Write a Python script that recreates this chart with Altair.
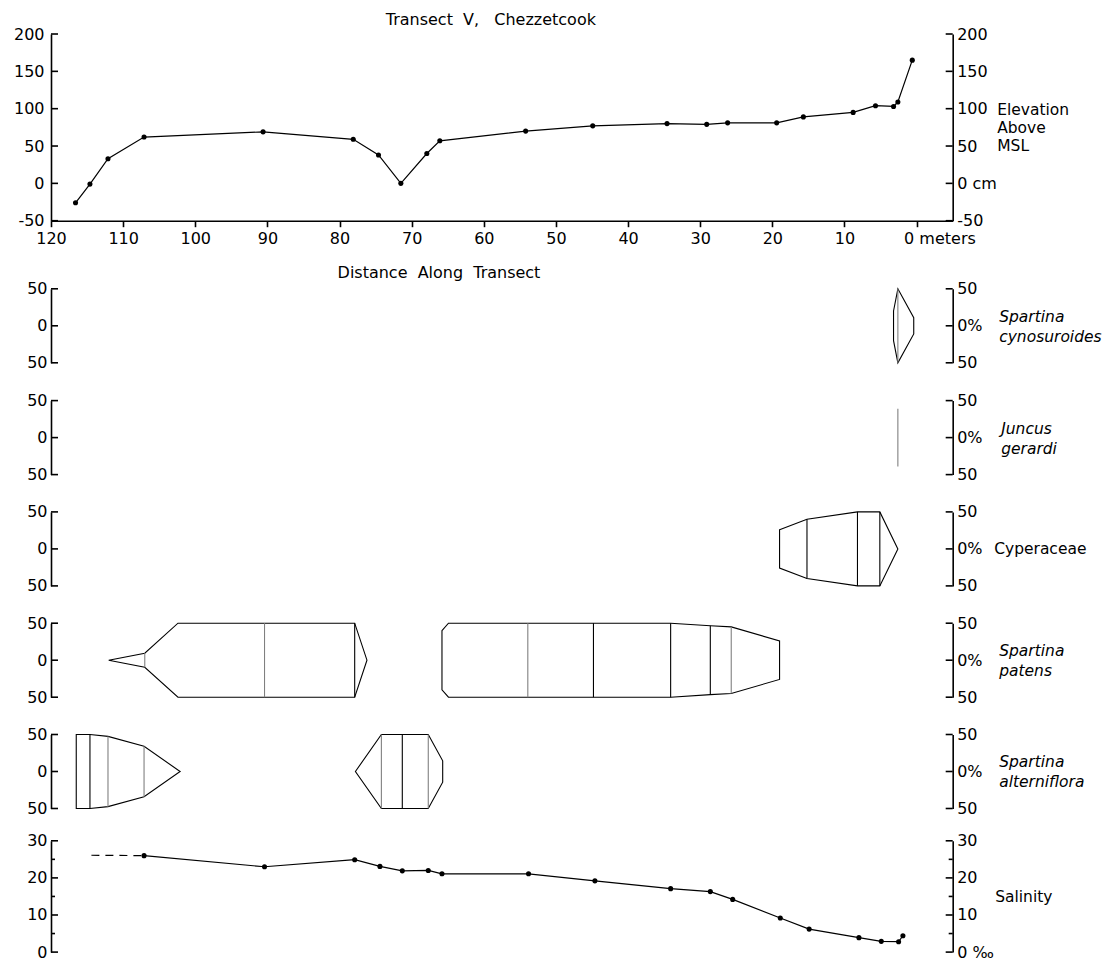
import altair as alt
import pandas as pd

FONT = "DejaVu Sans"
W = 901.7          # plot width shared by every panel (px)
SPACING = 32.3     # vertical gap between panels (px)
NB = "\u00a0"      # non-breaking space keeps the wide word gaps

# ---------------- data ----------------
# elevation profile: distance along transect (m) and elevation above MSL (cm)
elev_dist = [116.6, 114.6, 112.1, 107.1, 90.6, 78.1, 74.6, 71.5, 67.9, 66.1, 54.2,
             44.9, 34.6, 29.1, 26.2, 19.4, 15.7, 8.8, 5.7, 3.2, 2.6, 0.6]
elev_cm = [-26, -1, 33, 62, 69, 59, 38, 0, 40, 57, 70,
           77, 80, 79, 81, 81, 89, 95, 104, 103, 109, 165]

# salinity (per mil)
sal_dist = [107.1, 90.4, 77.9, 74.4, 71.3, 67.7, 65.8, 53.8, 44.6, 34.1, 28.6,
            25.5, 18.9, 14.9, 8.0, 4.9, 2.5, 1.9]
sal_ppt = [26.0, 23.0, 24.9, 23.1, 21.9, 22.0, 21.1, 21.1, 19.2, 17.1, 16.3,
           14.2, 9.2, 6.2, 3.9, 2.9, 2.8, 4.4]
# extrapolated salinity at the seaward end (dashed)
sal_ext_dist = [114.4, 107.1]
sal_ext_ppt = [26.1, 26.0]

# percent cover per species: kite outlines (one list per patch) and sample stations
cyn_patch_dist = [[3.2, 2.6, 0.4]]
cyn_patch_cover = [[40, 100, 22]]
cyn_stn_dist = [2.6]
cyn_stn_cover = [100]
cyn_stn_style = ["light"]

jun_patch_dist = []
jun_patch_cover = []
jun_stn_dist = [2.6]
jun_stn_cover = [78]
jun_stn_style = ["light"]

cyp_patch_dist = [[19.0, 15.2, 8.2, 5.1, 2.6]]
cyp_patch_cover = [[52, 80, 100, 100, 0]]
cyp_stn_dist = [15.2, 8.2, 5.1]
cyp_stn_cover = [80, 100, 100]
cyp_stn_style = ["solid", "solid", "solid"]

pat_patch_dist = [[112.0, 107.0, 102.4, 90.4, 77.9, 76.2],
                  [65.8, 64.9, 53.9, 44.8, 34.1, 28.6, 25.7, 19.0]]
pat_patch_cover = [[0, 19, 100, 100, 100, 0],
                   [80, 100, 100, 100, 100, 93, 90, 52]]
pat_stn_dist = [107.0, 90.4, 77.9, 53.9, 44.8, 34.1, 28.6, 25.7]
pat_stn_cover = [19, 100, 100, 100, 100, 100, 93, 90]
pat_stn_style = ["light", "light", "solid", "light", "solid", "solid", "solid", "light"]

salt_patch_dist = [[116.5, 114.6, 112.1, 107.1, 102.1],
                   [77.8, 74.2, 71.3, 67.7, 65.7]]
salt_patch_cover = [[100, 100, 95, 68, 0],
                    [0, 100, 100, 100, 29]]
salt_stn_dist = [114.6, 112.1, 107.1, 74.2, 71.3, 67.7]
salt_stn_cover = [100, 95, 68, 100, 100, 100]
salt_stn_style = ["solid", "light", "light", "light", "solid", "light"]

x_ticks = [120, 110, 100, 90, 80, 70, 60, 50, 40, 30, 20, 10, 0]
elev_ticks = [-50, 0, 50, 100, 150, 200]
kite_ticks = [-50, 0, 50]
sal_ticks = [0, 10, 20, 30]
sal_minor = [5, 15, 25]

# ---------------- helpers ----------------
xscale = alt.Scale(domain=[120, -5], nice=False, zero=False)
NEG = "datum.value < 0 ? '-' + abs(datum.value) : datum.label"


def axis_left(values, expr, pad):
    return alt.Axis(orient="left", values=values, labelExpr=expr, ticks=False, tickSize=0,
                    domain=True, domainColor="black", domainWidth=1.6, grid=False,
                    labelPadding=pad, labelFlush=False, labelFontSize=16,
                    labelColor="black", labelFont=FONT, title=None)


def axis_right(values, expr, title, italic, tx, ty, lh=20):
    return alt.Axis(orient="right", values=values, labelExpr=expr, ticks=False, tickSize=0,
                    domain=True, domainColor="black", domainWidth=1.6, grid=False,
                    labelPadding=4, labelFlush=False, labelFontSize=16,
                    labelColor="black", labelFont=FONT,
                    title=title, titleFont=FONT, titleFontSize=15.5,
                    titleFontWeight="normal", titleColor="black", titleAngle=0,
                    titleAlign="left", titleBaseline="middle", titleX=tx, titleY=ty,
                    titleLineHeight=lh, titleFontStyle="italic" if italic else "normal")


def inward_ticks(vals, side, length, yscale, axis):
    df = pd.DataFrame({"v": vals})
    if side == "left":
        xs = dict(x=alt.value(0), x2=alt.value(length))
    else:
        xs = dict(x=alt.value(W - length), x2=alt.value(W))
    return alt.Chart(df).mark_rule(color="black", strokeWidth=1.6).encode(
        y=alt.Y("v:Q", scale=yscale, axis=axis), **xs)


# ---------------- elevation panel ----------------
eyscale = alt.Scale(domain=[-50, 200], nice=False, zero=False)
edf = pd.DataFrame({"dist": elev_dist, "elev": elev_cm})

xaxis = alt.Axis(
    orient="bottom", values=x_ticks, grid=False,
    domainColor="black", domainWidth=1.6, ticks=True, tickSize=6, tickWidth=1.6,
    tickColor="black", labelPadding=4, labelFlush=False, labelFontSize=16,
    labelColor="black", labelFont=FONT,
    labelExpr="datum.value === 0 ? '0 meters' : datum.label",
    labelAlign={"condition": {"test": "datum.value === 0", "value": "left"}, "value": "center"},
    labelOffset={"condition": {"test": "datum.value === 0", "value": -13}, "value": 0},
    title=f"Distance{NB}{NB}Along{NB}{NB}Transect", titleFont=FONT, titleFontSize=16,
    titleFontWeight="normal", titleColor="black", titleX=387.5, titleY=52,
    titleAlign="center", titleBaseline="middle")

elev_line = alt.Chart(edf).mark_line(color="black", strokeWidth=1.2).encode(
    x=alt.X("dist:Q", scale=xscale, axis=xaxis),
    y=alt.Y("elev:Q", scale=eyscale, axis=None))
elev_pts = alt.Chart(edf).mark_circle(size=26, color="black", opacity=1).encode(
    x=alt.X("dist:Q", scale=xscale, axis=xaxis),
    y=alt.Y("elev:Q", scale=eyscale, axis=None))

elev_panel = alt.layer(
    elev_line, elev_pts,
    inward_ticks(elev_ticks, "left", 7, eyscale, axis_left(elev_ticks, NEG, 7)),
    inward_ticks(elev_ticks, "right", 7, eyscale,
                 axis_right(elev_ticks,
                            "datum.value === 0 ? '0 cm' : (" + NEG + ")",
                            ["Elevation", "Above", "MSL"], False, 44, 75, 18.5)),
).resolve_axis(y="independent").properties(
    width=W, height=186.7,
    title=alt.TitleParams(f"Transect{NB}{NB}V,{NB}{NB}{NB}Chezzetcook", font=FONT,
                          fontSize=16, fontWeight="normal", color="black",
                          anchor="middle", frame="group", dx=-11, offset=-2))


# ---------------- kite panels ----------------
def kite_panel(patch_dist, patch_cover, stn_dist, stn_cover, stn_style,
               name, italic, tx, height, top_pad):
    yscale = alt.Scale(domain=[-50, 50], range=[height, top_pad], nice=False, zero=False)
    mid = (height + top_pad) / 2
    title_y = mid - 9.5 if isinstance(name, list) else mid
    layers = []
    if patch_dist:
        rows = []
        for k, (ds, cs) in enumerate(zip(patch_dist, patch_cover)):
            for d, c in zip(ds, cs):
                rows.append({"patch": k, "dist": d, "hi": c / 2, "lo": -c / 2})
        layers.append(
            alt.Chart(pd.DataFrame(rows)).mark_area(
                fill="white", fillOpacity=0, stroke="black", strokeWidth=1.1
            ).encode(
                x=alt.X("dist:Q", scale=xscale, axis=None),
                y=alt.Y("hi:Q", scale=yscale, axis=None),
                y2="lo:Q",
                detail="patch:N"))
    sdf = pd.DataFrame({"dist": stn_dist,
                        "hi": [c / 2 for c in stn_cover],
                        "lo": [-c / 2 for c in stn_cover],
                        "style": stn_style})
    layers.append(
        alt.Chart(sdf).mark_rule(strokeWidth=1.1).encode(
            x=alt.X("dist:Q", scale=xscale, axis=None),
            y=alt.Y("hi:Q", scale=yscale, axis=None),
            y2="lo:Q",
            color=alt.Color("style:N", legend=None,
                            scale=alt.Scale(domain=["solid", "light"],
                                            range=["#000000", "#808080"]))))
    layers.append(inward_ticks(kite_ticks, "left", 7, yscale,
                               axis_left(kite_ticks, "'' + abs(datum.value)", 4)))
    layers.append(inward_ticks(kite_ticks, "right", 7, yscale,
                               axis_right(kite_ticks,
                                          "datum.value === 0 ? '0%' : '50'",
                                          name, italic, tx, title_y)))
    return alt.layer(*layers).resolve_axis(y="independent").properties(width=W, height=height)


cyn_panel = kite_panel(cyn_patch_dist, cyn_patch_cover, cyn_stn_dist, cyn_stn_cover,
                       cyn_stn_style, ["Spartina", "cynosuroides"], True, 46, 109.5, 35.5)
jun_panel = kite_panel(jun_patch_dist, jun_patch_cover, jun_stn_dist, jun_stn_cover,
                       jun_stn_style, ["Juncus", "gerardi"], True, 48, 79, 5)
cyp_panel = kite_panel(cyp_patch_dist, cyp_patch_cover, cyp_stn_dist, cyp_stn_cover,
                       cyp_stn_style, "Cyperaceae", False, 41, 79, 5)
pat_panel = kite_panel(pat_patch_dist, pat_patch_cover, pat_stn_dist, pat_stn_cover,
                       pat_stn_style, ["Spartina", "patens"], True, 46, 79, 5)
salt_panel = kite_panel(salt_patch_dist, salt_patch_cover, salt_stn_dist, salt_stn_cover,
                        salt_stn_style, ["Spartina", "alterniflora"], True, 46, 79, 5)

# ---------------- salinity panel ----------------
SAL_H = 111.3
syscale = alt.Scale(domain=[0, 30], nice=False, zero=False)
sdf = pd.DataFrame({"dist": sal_dist, "sal": sal_ppt})
sext = pd.DataFrame({"dist": sal_ext_dist, "sal": sal_ext_ppt})

sal_line = alt.Chart(sdf).mark_line(color="black", strokeWidth=1.2).encode(
    x=alt.X("dist:Q", scale=xscale, axis=None),
    y=alt.Y("sal:Q", scale=syscale, axis=None))
sal_dash = alt.Chart(sext).mark_line(color="black", strokeWidth=1.2, strokeDash=[8, 6]).encode(
    x=alt.X("dist:Q", scale=xscale, axis=None),
    y=alt.Y("sal:Q", scale=syscale, axis=None))
sal_pts = alt.Chart(sdf).mark_circle(size=26, color="black", opacity=1).encode(
    x=alt.X("dist:Q", scale=xscale, axis=None),
    y=alt.Y("sal:Q", scale=syscale, axis=None))

sal_panel = alt.layer(
    sal_line, sal_dash, sal_pts,
    inward_ticks(sal_ticks, "left", 7, syscale, axis_left(sal_ticks, "datum.label", 4)),
    inward_ticks(sal_minor, "left", 4, syscale, None),
    inward_ticks(sal_minor, "right", 4, syscale, None),
    inward_ticks(sal_ticks, "right", 7, syscale,
                 axis_right(sal_ticks, "datum.value === 0 ? '0 \u2030' : datum.label",
                            "Salinity", False, 42, SAL_H / 2)),
).resolve_axis(y="independent").properties(width=W, height=SAL_H)

chart = alt.vconcat(
    elev_panel, cyn_panel, jun_panel, cyp_panel, pat_panel, salt_panel, sal_panel,
    spacing=SPACING, bounds="flush",
).properties(
    padding={"left": 13, "top": 12, "right": 0, "bottom": 0},
    background="white",
).configure_view(stroke=None)

chart.save("out.html", embed_options={"renderer": "svg", "actions": False})
